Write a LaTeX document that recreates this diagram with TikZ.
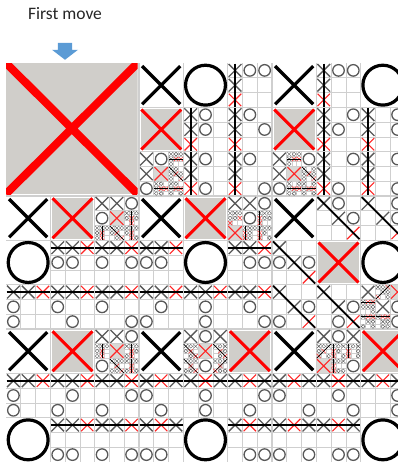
\documentclass[tikz,border=0pt]{standalone}
\usepackage{fontspec}
\setmainfont{Carlito}
\usetikzlibrary{positioning}
\definecolor{cellgray}{HTML}{D0CECA}
\definecolor{gridgray}{HTML}{CFCFCF}
\definecolor{markgray}{HTML}{585858}
\definecolor{arrowblue}{HTML}{5B9BD5}
\tikzset{
  lvone/.style={pen/.style={line width=3.2pt,black,radius=.45},redpen/.style={line width=3pt,red},
    winpen/.style={line width=2pt,black},gline/.style={draw=gridgray,line width=1pt},
    cellfill/.style={fill=cellgray}},
  lvtwo/.style={pen/.style={line width=1.3pt,markgray,radius=.39},redpen/.style={line width=1.1pt,red!85},
    winpen/.style={line width=1.8pt,black},gline/.style={draw=gridgray,line width=.6pt},
    cellfill/.style={fill=cellgray!80}},
  lvthree/.style={pen/.style={line width=.45pt,markgray,radius=.38},redpen/.style={line width=.45pt,red!85},
    winpen/.style={line width=.6pt,black},gline/.style={draw=gridgray,line width=.3pt},
    cellfill/.style={fill=cellgray!70}},
  caption/.style={font=\fontsize{17.5}{20}\selectfont,text=black!85,inner sep=0pt},
  hint/.style={fill=arrowblue},
}
% one mark in cell (#1,#2)
\newcommand\mkx[2]{\draw[pen] (#1+.07,#2+.07) -- (#1+.93,#2+.93) (#1+.93,#2+.07) -- (#1+.07,#2+.93);}
\newcommand\mko[2]{\draw[pen] (#1+.5,#2+.5) circle;}
\newcommand\mkr[2]{\draw[redpen] (#1+.08,#2+.08) -- (#1+.92,#2+.92) (#1+.92,#2+.08) -- (#1+.08,#2+.92);}
\newcommand\mkg[2]{\fill[cellfill] (#1+.04,#2+.04) rectangle (#1+.96,#2+.96);
  \draw[redpen] (#1+.05,#2+.05) -- (#1+.95,#2+.95) (#1+.95,#2+.05) -- (#1+.05,#2+.95);}
% winning lines
\newcommand\lnra{\draw[winpen] (.04,.5) -- (2.96,.5);}
\newcommand\lnrb{\draw[winpen] (.04,1.5) -- (2.96,1.5);}
\newcommand\lnrc{\draw[winpen] (.04,2.5) -- (2.96,2.5);}
\newcommand\lnca{\draw[winpen] (.5,.04) -- (.5,2.96);}
\newcommand\lncb{\draw[winpen] (1.5,.04) -- (1.5,2.96);}
\newcommand\lncc{\draw[winpen] (2.5,.04) -- (2.5,2.96);}
\newcommand\lndg{\draw[winpen] (.08,.08) -- (2.92,2.92);}
\newcommand\lnad{\draw[winpen] (2.92,.08) -- (.08,2.92);}
\newcommand\lnno{}
\newcommand\gridlines{\draw[gline] (1,0) -- (1,3) (2,0) -- (2,3) (0,1) -- (3,1) (0,2) -- (3,2);}
\newcommand\putmarks[1]{\foreach \mt/\mc/\mr in {#1}{\csname mk\mt\endcsname{\mc}{\mr}}}
% boards where X wins at once
\newcommand\winboards[3]{%
  \foreach \wp/\wq in {#2}{%
    \begin{scope}[shift={(\wp,\wq)},scale=1/3,lvtwo]
      \gridlines \putmarks{#1}\mko{\wp}{\wq}\csname ln#3\endcsname
    \end{scope}}}
% board that goes one level further
\newcommand\deepboard[4]{%
  \begin{scope}[shift={(#1,#2)},scale=1/3,lvtwo]
    \gridlines \putmarks{#3}
    \foreach \fp/\fq/\fa/\fb/\fl in {#4}{%
      \begin{scope}[shift={(\fp,\fq)},scale=1/3,lvthree]
        \gridlines \putmarks{#3}\mko{\fp}{\fq}\mkr{\fa}{\fb}\csname ln\fl\endcsname
      \end{scope}}
  \end{scope}}

\begin{document}
\begin{tikzpicture}[x=1pt,y=-1pt]
\useasboundingbox (0,0) rectangle (398,463);
\node[caption] (title) at (65,13.5) {First move};
\coordinate[below=23pt of title] (cue);
\fill[hint] (cue) ++(-7.2,0) -- ++(14.4,0) -- ++(0,7) -- ++(5.8,0) -- ++(-13,10)
  -- ++(-13,-10) -- ++(5.8,0) -- cycle;
\begin{scope}[shift={(6,63)},scale=133]
  \draw[draw=gridgray,line width=1.4pt] (1,0) -- (1,3) (2,0) -- (2,3) (0,1) -- (3,1) (0,2) -- (3,2);
  % X opens in the corner
  \begin{scope}
    \clip (0,0) rectangle (.99,.985);
    \fill[cellgray] (0,0) rectangle (.99,.985);
    \draw[red,line width=8pt] (0,0) -- (.99,.985) (.99,0) -- (0,.985);
  \end{scope}
  % O replies
  \begin{scope}[shift={(1,0)},scale=1/3,lvone]
    \gridlines \putmarks{x/0/0,o/1/0,g/0/1}
    \winboards{x/0/0,o/1/0,x/0/1,r/0/2}{2/0,1/1,2/1,1/2,2/2}{ca}
    \deepboard{0}{2}{x/0/0,o/1/0,x/0/1,o/0/2,g/1/1}{2/0/2/1/rb,2/1/2/2/dg,2/2/2/1/rb,1/2/2/1/rb}
  \end{scope}
  \begin{scope}[shift={(2,0)},scale=1/3,lvone]
    \gridlines \putmarks{x/0/0,o/2/0,g/0/1}
    \winboards{x/0/0,o/2/0,x/0/1,r/0/2}{1/0,1/1,2/1,1/2,2/2}{ca}
    \deepboard{0}{2}{x/0/0,o/2/0,x/0/1,o/0/2,g/1/1}{1/0/2/1/rb,2/1/2/2/dg,1/2/2/1/rb,2/2/2/1/rb}
  \end{scope}
  \begin{scope}[shift={(0,1)},scale=1/3,lvone]
    \gridlines \putmarks{x/0/0,o/0/1,g/1/0}
    \winboards{x/0/0,o/0/1,x/1/0,r/2/0}{1/1,2/1,0/2,1/2,2/2}{ra}
    \deepboard{2}{0}{x/0/0,o/0/1,x/1/0,o/2/0,g/1/1}{2/1/1/2/cb,0/2/1/2/cb,1/2/2/2/dg,2/2/1/2/cb}
  \end{scope}
  \begin{scope}[shift={(1,1)},scale=1/3,lvone]
    \gridlines \putmarks{x/0/0,o/1/1,g/1/0}
    \winboards{x/0/0,o/1/1,x/1/0,r/2/0}{0/1,2/1,0/2,1/2,2/2}{ra}
    \deepboard{2}{0}{x/0/0,o/1/1,x/1/0,o/2/0,g/0/2}{2/1/0/1/ca,1/2/0/1/ca,2/2/0/1/ca,0/1/2/1/no}
  \end{scope}
  \begin{scope}[shift={(2,1)},scale=1/3,lvone]
    \gridlines \putmarks{x/0/0,o/2/1,g/1/1}
    \winboards{x/0/0,o/2/1,x/1/1,r/2/2}{1/0,2/0,0/1,0/2,1/2}{dg}
    \deepboard{2}{2}{x/0/0,o/2/1,x/1/1,o/2/2,g/2/0}{1/0/0/2/ad,0/1/1/0/ra,0/2/1/0/ra,1/2/1/0/ra}
  \end{scope}
  \begin{scope}[shift={(0,2)},scale=1/3,lvone]
    \gridlines \putmarks{x/0/0,o/0/2,g/1/0}
    \winboards{x/0/0,o/0/2,x/1/0,r/2/0}{0/1,1/1,2/1,1/2,2/2}{ra}
    \deepboard{2}{0}{x/0/0,o/0/2,x/1/0,o/2/0,g/1/1}{0/1/1/2/cb,2/1/1/2/cb,1/2/2/2/dg,2/2/1/2/cb}
  \end{scope}
  \begin{scope}[shift={(1,2)},scale=1/3,lvone]
    \gridlines \putmarks{x/0/0,o/1/2,g/2/0}
    \winboards{x/0/0,o/1/2,x/2/0,r/1/0}{0/1,1/1,2/1,0/2,2/2}{ra}
    \deepboard{1}{0}{x/0/0,o/1/2,x/2/0,o/1/0,g/1/1}{0/1/2/2/dg,2/1/2/2/dg,0/2/2/2/dg,2/2/0/2/ad}
  \end{scope}
  \begin{scope}[shift={(2,2)},scale=1/3,lvone]
    \gridlines \putmarks{x/0/0,o/2/2,g/2/0}
    \winboards{x/0/0,o/2/2,x/2/0,r/1/0}{0/1,1/1,2/1,0/2,1/2}{ra}
    \deepboard{1}{0}{x/0/0,o/2/2,x/2/0,o/1/0,g/0/2}{0/1/1/1/ad,1/1/0/1/ca,2/1/0/1/ca,1/2/0/1/ca}
  \end{scope}
\end{scope}
\end{tikzpicture}
\end{document}
